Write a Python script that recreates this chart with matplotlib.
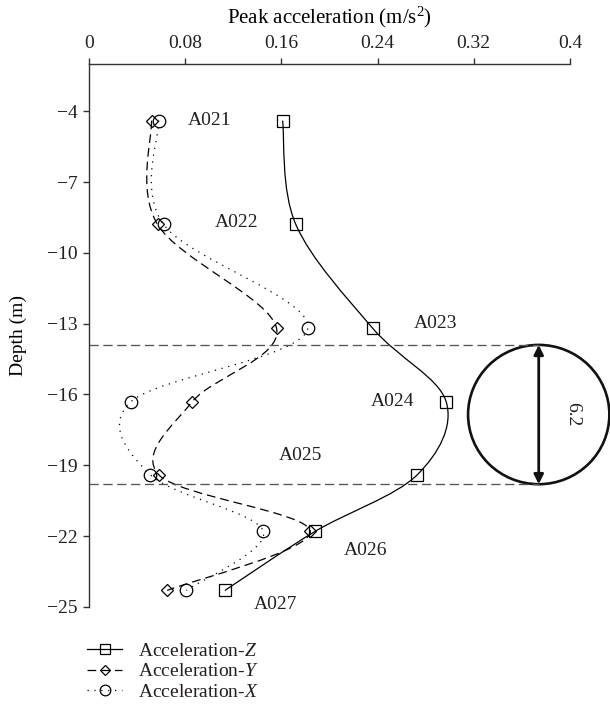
import numpy as np
import matplotlib
matplotlib.use("Agg")
import matplotlib.pyplot as plt
from matplotlib.path import Path
from matplotlib.patches import PathPatch, Ellipse
from matplotlib.lines import Line2D

plt.rcParams['font.family'] = ['Liberation Serif', 'DejaVu Serif']
plt.rcParams['mathtext.fontset'] = 'custom'
plt.rcParams['mathtext.rm'] = 'Liberation Serif'
plt.rcParams['mathtext.it'] = 'Liberation Serif:italic'
plt.rcParams['font.size'] = 14
plt.rcParams['text.color'] = '#231f20'
plt.rcParams['xtick.labelcolor'] = '#231f20'
plt.rcParams['ytick.labelcolor'] = '#231f20'

## Data
depth = [-4.4, -8.8, -13.2, -16.3, -19.4, -21.8, -24.3]
acc_z = [0.161, 0.172, 0.236, 0.297, 0.273, 0.188, 0.113]
acc_y = [0.052, 0.057, 0.156, 0.086, 0.058, 0.184, 0.065]
acc_x = [0.058, 0.062, 0.182, 0.035, 0.051, 0.145, 0.081]

sensors = ['A021', 'A022', 'A023', 'A024', 'A025', 'A026', 'A027']
label_pos = [(0.082, -4.4), (0.105, -8.7), (0.270, -13.0), (0.234, -16.3),
             (0.158, -18.6), (0.212, -22.6), (0.137, -24.9)]

xticks = [0, 0.08, 0.16, 0.24, 0.32, 0.4]
xtick_labels = ['0', '0.08', '0.16', '0.24', '0.32', '0.4']
yticks = [-4, -7, -10, -13, -16, -19, -22, -25]

# tunnel zone (dashed lines) and its diameter
zone_top = -13.9
zone_bot = -19.8
zone_label = '6.2'


def smooth_path(x, y):
    """Excel-like smoothed line: Catmull-Rom as cubic Bezier segments."""
    pts = np.column_stack([x, y])
    pts = np.vstack([pts[0], pts, pts[-1]])
    verts = [pts[1]]
    codes = [Path.MOVETO]
    for i in range(1, len(pts) - 2):
        p0, p1, p2, p3 = pts[i - 1], pts[i], pts[i + 1], pts[i + 2]
        c1 = p1 + (p2 - p0) / 6.0
        c2 = p2 - (p3 - p1) / 6.0
        verts += [c1, c2, p2]
        codes += [Path.CURVE4] * 3
    return Path(verts, codes)


fig = plt.figure(figsize=(6.1, 7.09), dpi=100)
ax = fig.add_axes([0.1459, 0.1439, 0.7885, 0.7659])

styles = [
    (acc_z, 's', 9.0, '-', 'Acceleration-$\\mathit{Z}$'),
    (acc_y, 'D', 6.3, (0, (7, 4)), 'Acceleration-$\\mathit{Y}$'),
    (acc_x, 'o', 9.0, (0, (1, 4.5)), 'Acceleration-$\\mathit{X}$'),
]

handles = []
for vals, mk, ms, ls, lab in styles:
    patch = PathPatch(smooth_path(vals, depth), fill=False, edgecolor='black',
                      lw=0.9, linestyle=ls)
    ax.add_patch(patch)
    ax.plot(vals, depth, linestyle='none', marker=mk, ms=ms, mfc='none',
            mec='black', mew=0.9)
    handles.append(Line2D([], [], color='black', lw=0.9, linestyle=ls,
                          marker=mk, ms=ms * 0.85, mfc='none', mec='black',
                          mew=0.9, label=lab))

for name, (tx, ty) in zip(sensors, label_pos):
    ax.text(tx, ty, name, ha='left', va='center', fontsize=14)

# tunnel zone
cx = 0.374
for yy in (zone_top, zone_bot):
    ax.plot([0, cx], [yy, yy], color='#555555', lw=0.95, linestyle=(0, (7, 3.5)))
ell = Ellipse((cx, (zone_top + zone_bot) / 2), width=0.1175,
              height=zone_top - zone_bot, fill=False, edgecolor='#111111',
              lw=1.9, clip_on=False)
ax.add_patch(ell)
ax.annotate('', xy=(cx, zone_top), xytext=(cx, zone_bot),
            arrowprops=dict(arrowstyle='<|-|>', lw=2.0, color='#111111',
                            mutation_scale=14, shrinkA=0, shrinkB=0),
            annotation_clip=False)
ax.text(0.4025, (zone_top + zone_bot) / 2, zone_label, rotation=270,
        ha='center', va='center', fontsize=14, clip_on=False)

ax.set_xlim(0, 0.4)
ax.set_ylim(-25, -2)
ax.xaxis.tick_top()
ax.xaxis.set_label_position('top')
ax.set_xticks(xticks)
ax.set_xticklabels(xtick_labels)
ax.set_yticks(yticks)
ax.set_xlabel('Peak acceleration (m/s$^{\\mathrm{2}}$)', labelpad=9, fontsize=15)
ax.set_ylabel('Depth (m)', labelpad=14)

for side in ('right', 'bottom'):
    ax.spines[side].set_visible(False)
for side in ('left', 'top'):
    ax.spines[side].set_color('#333333')
    ax.spines[side].set_linewidth(1.0)
ax.tick_params(axis='both', direction='out', length=4.3, width=1.0,
               color='#333333', pad=4)

fig.legend(handles=handles, loc='upper left', bbox_to_anchor=(0.143, 0.094),
           frameon=False, handlelength=1.8, handletextpad=0.8,
           labelspacing=0.15, borderpad=0, borderaxespad=0, fontsize=14)

fig.savefig('out.png', dpi=100)
